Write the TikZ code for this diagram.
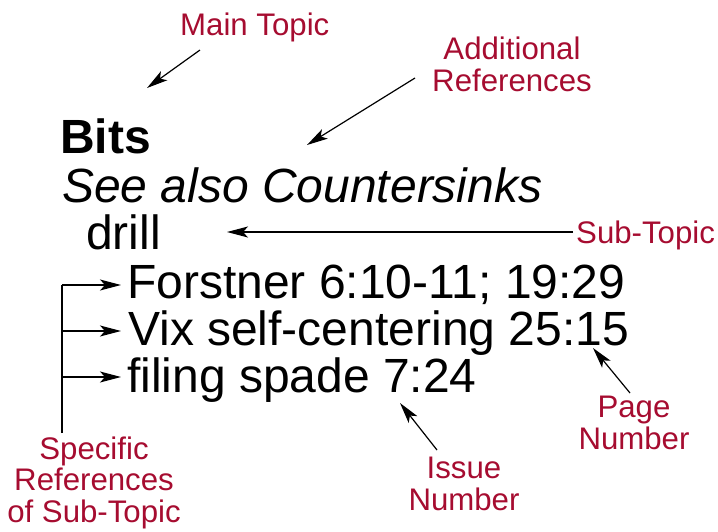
\documentclass[tikz,border=0pt]{standalone}
\usepackage{fontspec}
\setmainfont{Liberation Sans}
\usetikzlibrary{arrows.meta}
\definecolor{labelred}{RGB}{166,12,48}
\tikzset{
  entry/.style={anchor=base west, inner sep=0pt, font=\fontsize{48}{48}\selectfont},
  lbl/.style={anchor=base, inner sep=0pt, text=labelred, font=\fontsize{31.2}{31.5}\selectfont, align=center},
  lblw/.style={anchor=base west, inner sep=0pt, text=labelred, font=\fontsize{31.2}{31.5}\selectfont},
  pointer/.style={line width=1.2pt, -{Stealth[length=21pt,width=11pt,inset=5pt]}},
  plain/.style={line width=1.2pt}
}
\begin{document}
\begin{tikzpicture}[x=1pt,y=-1pt]
\useasboundingbox (0,0) rectangle (718,531);
% index entries
\node[entry, font=\fontsize{48}{48}\selectfont\bfseries] (bits) at (60,153) {Bits};
\node[entry, font=\fontsize{48}{48}\selectfont\itshape] (see) at (62,202) {See also Countersinks};
\node[entry] (drill) at (86,249) {drill};
\node[entry] (forst) at (127,298) {Forstner 6:10-11; 19:29};
\node[entry] (vix) at (128,345) {Vix self-centering 25:15};
\node[entry] (fil) at (127,392) {filing spade 7:24};
% labels
\node[lblw] (main) at (180,35) {Main Topic};
\node[lbl] (addl) at (512,91) {Additional\\References};
\node[lblw] (sub) at (576,243) {Sub-Topic};
\node[lbl] (spec) at (94,522) {Specific\\References\\of Sub-Topic};
\node[lbl] (issue) at (464,510) {Issue\\Number};
\node[lbl] (page) at (634,449) {Page\\Number};
% connector points
\coordinate (mainA) at (200,50);
\coordinate (mainB) at (147,88);
\coordinate (addA) at (415,78);
\coordinate (addB) at (307,145);
\coordinate (subA) at (573,232);
\coordinate (subB) at (227,232);
\coordinate (brBot) at (62,433);
\coordinate (br1) at (62,285);
\coordinate (br2) at (62,331);
\coordinate (br3) at (62,377);
\coordinate (t1) at (121,285);
\coordinate (t2) at (121,331);
\coordinate (t3) at (121,377);
\coordinate (issA) at (437,450);
\coordinate (issB) at (400,403);
\coordinate (pgA) at (630,393);
\coordinate (pgB) at (593,348);
% connectors
\draw[pointer] (mainA) -- (mainB);
\draw[pointer] (addA) -- (addB);
\draw[pointer] (subA) -- (subB);
\draw[plain] (brBot) -- (br1);
\draw[pointer] (br1) -- (t1);
\draw[pointer] (br2) -- (t2);
\draw[pointer] (br3) -- (t3);
\draw[pointer] (issA) -- (issB);
\draw[pointer] (pgA) -- (pgB);
\end{tikzpicture}
\end{document}
